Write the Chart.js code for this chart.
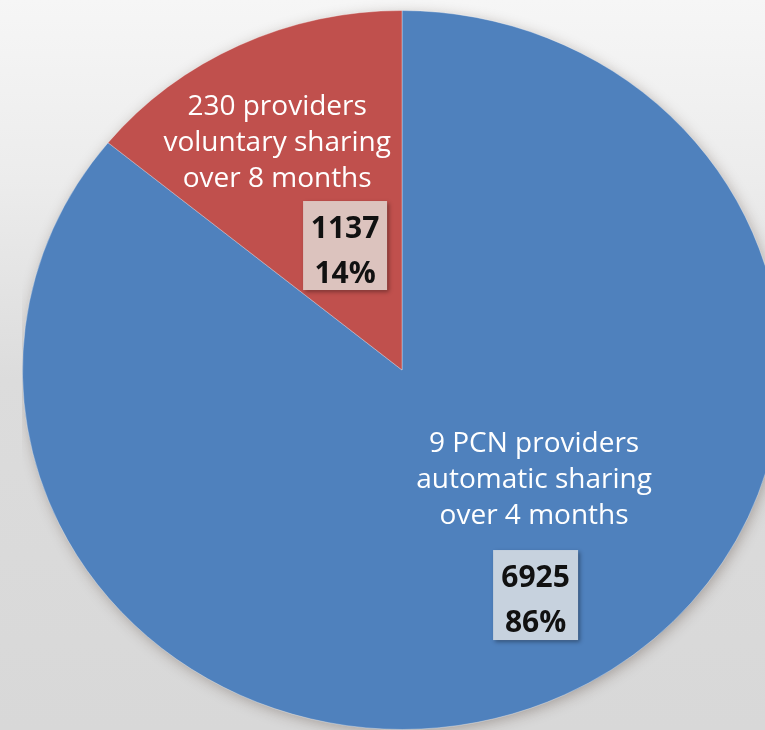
<!DOCTYPE html>
<html>
<head>
<meta charset="utf-8">
<script src="https://cdn.jsdelivr.net/npm/chart.js@4.4.1/dist/chart.umd.min.js"></script>
<style>
    html, body {
        margin: 0;
        width: 765px;
        height: 730px;
        overflow: hidden;
        background: linear-gradient(to bottom, #f6f6f6 0px, #ececec 180px, #dcdcdc 380px, #d8d8d8 730px);
    }
    #wrap {
        position: absolute;
        left: 22px;
        top: -10px;
        width: 760px;
        height: 760px;
    }
</style>
</head>
<body>
<div id="wrap"><canvas id="pieChart" width="760" height="760"></canvas></div>
<script>
// data
const categories = ['9 PCN providers automatic sharing over 4 months', '230 providers voluntary sharing over 8 months'];
const labelLines = [
    ['9 PCN providers', 'automatic sharing', 'over 4 months'],
    ['230 providers', 'voluntary sharing', 'over 8 months']
];
const counts = [6925, 1137];
const percents = ['86%', '14%'];
const sliceColors = ['#4f81bd', '#c0504d'];
const boxColors = ['#c7d2de', '#dcc3be'];

// the original pie is slightly squashed vertically
const SQUASH = 359 / 379;

const ellipsePlugin = {
    id: 'ellipse',
    beforeDatasetsDraw(chart) {
        const arc = chart.getDatasetMeta(0).data[0];
        if (!arc) return;
        const { x, y, outerRadius } = arc;
        const ctx = chart.ctx;
        ctx.save();
        ctx.translate(x, y);
        ctx.scale(1, SQUASH);
        ctx.translate(-x, -y);
        // soft halo behind the pie
        ctx.save();
        ctx.shadowColor = 'rgba(60, 40, 30, 0.35)';
        ctx.shadowBlur = 14;
        ctx.shadowOffsetX = 2;
        ctx.shadowOffsetY = 3;
        ctx.beginPath();
        ctx.arc(x, y, outerRadius - 1, 0, Math.PI * 2);
        ctx.fillStyle = sliceColors[0];
        ctx.fill();
        ctx.restore();
    },
    afterDatasetsDraw(chart) {
        chart.ctx.restore();
    }
};

function drawBox(ctx, cx, cy, w, h, fill, lines) {
    ctx.save();
    ctx.shadowColor = 'rgba(0, 0, 0, 0.35)';
    ctx.shadowBlur = 4;
    ctx.shadowOffsetX = 2;
    ctx.shadowOffsetY = 2;
    ctx.fillStyle = fill;
    ctx.fillRect(cx - w / 2, cy - h / 2, w, h);
    ctx.restore();
    ctx.fillStyle = '#111111';
    ctx.font = 'bold 30px "Open Sans"';
    ctx.textAlign = 'center';
    ctx.textBaseline = 'alphabetic';
    ctx.fillText(lines[0], cx, cy - 8);
    ctx.fillText(lines[1], cx, cy + 37);
}

const sliceLabelPlugin = {
    id: 'sliceLabels',
    afterDatasetsDraw(chart) {
        const arc = chart.getDatasetMeta(0).data[0];
        if (!arc) return;
        const { x, y, outerRadius: r } = arc;
        const ctx = chart.ctx;
        // label anchors as fractions of the radius, from the chart centre
        const anchors = [
            { tx: 0.348, ty: 0.311, bx: 0.352, by: 0.593, bw: 85, bh: 90 },
            { tx: -0.329, ty: -0.577, bx: -0.150, by: -0.328, bw: 84, bh: 89 }
        ];
        ctx.save();
        anchors.forEach((a, i) => {
            const tx = x + a.tx * r;
            const ty = y + a.ty * r;
            ctx.fillStyle = '#ffffff';
            ctx.font = '28px "Open Sans"';
            ctx.textAlign = 'center';
            ctx.textBaseline = 'alphabetic';
            labelLines[i].forEach((line, j) => {
                ctx.fillText(line, tx, ty + (j - 1) * 36);
            });
            drawBox(ctx, x + a.bx * r, y + a.by * r, a.bw, a.bh,
                boxColors[i], [String(counts[i]), percents[i]]);
        });
        ctx.restore();
    }
};

new Chart(document.getElementById('pieChart'), {
    type: 'pie',
    data: {
        labels: categories,
        datasets: [{
            data: counts,
            backgroundColor: sliceColors,
            borderColor: 'rgba(255, 255, 255, 0.35)',
            borderWidth: 1
        }]
    },
    options: {
        responsive: false,
        animation: false,
        layout: { padding: 0 },
        plugins: {
            legend: { display: false },
            tooltip: { enabled: false }
        }
    },
    plugins: [ellipsePlugin, sliceLabelPlugin]
});
</script>
</body>
</html>
